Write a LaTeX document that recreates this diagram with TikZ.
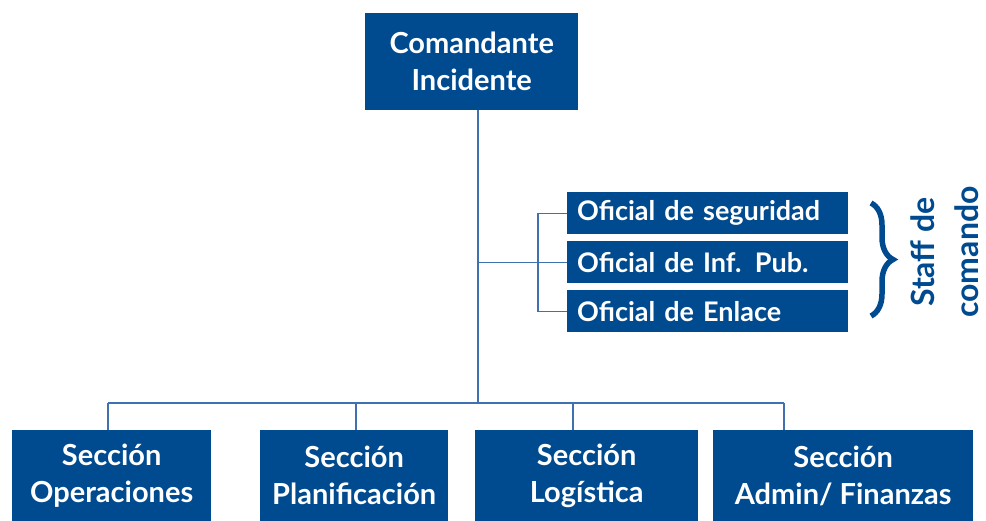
\documentclass[tikz,border=0pt]{standalone}
\usepackage{fontspec}
\setmainfont{Lato}
\usetikzlibrary{decorations.pathreplacing}
\definecolor{cmdblue}{HTML}{004A8F}
\definecolor{linkblue}{HTML}{3F70B0}

\begin{document}
\begin{tikzpicture}[x=1pt,y=-1pt,
    box/.style={fill=cmdblue,text=white,align=center,inner sep=0pt,anchor=north west,
      font=\bfseries\fontsize{29}{37}\selectfont},
    staffbox/.style={fill=cmdblue,text=white,inner xsep=10pt,inner ysep=0pt,anchor=north west,
      text width=261pt,minimum height=42pt,font=\bfseries\fontsize{27}{30}\selectfont},
    link/.style={linkblue,line width=1.3pt}]
    \useasboundingbox (0,0) rectangle (986,521);
    \node[box,minimum width=213pt,minimum height=97pt] (ci) at (365,13) {Comandante\\Incidente};
    \node[staffbox] (seg) at (567,192) {Oficial de seguridad};
    \node[staffbox] (inf) at (567,241) {Oficial de Inf. Pub.};
    \node[staffbox] (enl) at (567,290) {Oficial de Enlace};
    \node[box,minimum width=199pt,minimum height=91pt] (ops) at (12,430) {Sección\\Operaciones};
    \node[box,minimum width=188pt,minimum height=91pt] (pla) at (260,430) {Sección\\Planificación};
    \node[box,minimum width=223pt,minimum height=91pt] (log) at (475,430) {Sección\\Logística};
    \node[box,minimum width=260pt,minimum height=91pt] (adm) at (713,430) {Sección\\Admin/ Finanzas};
    \coordinate (hub) at (478,403);
    \coordinate (sbar) at (538,262);
    \coordinate (d1) at (108,403);
    \coordinate (d2) at (356,403);
    \coordinate (d3) at (573,403);
    \coordinate (d4) at (784,403);
    % trunk and staff bracket
    \draw[link] (hub |- ci.south) -- (hub);
    \draw[link] (hub |- inf.west) -- (inf.west);
    \draw[link] (seg.west) -- (sbar |- seg.west) -- (sbar |- enl.west) -- (enl.west);
    % sections
    \draw[link] (d1) -- (d4);
    \draw[link] (d1) -- (d1 |- ops.north);
    \draw[link] (d2) -- (d2 |- pla.north);
    \draw[link] (d3) -- (d3 |- log.north);
    \draw[link] (d4) -- (d4 |- adm.north);
    \draw[cmdblue,line width=5.5pt,decorate,decoration={brace,amplitude=22pt}] (871,203) -- (871,316);
    \node[rotate=90,text=cmdblue,align=center,font=\bfseries\fontsize{32}{44}\selectfont] (staff) at (945,252) {Staff de\\comando};
\end{tikzpicture}
\end{document}
